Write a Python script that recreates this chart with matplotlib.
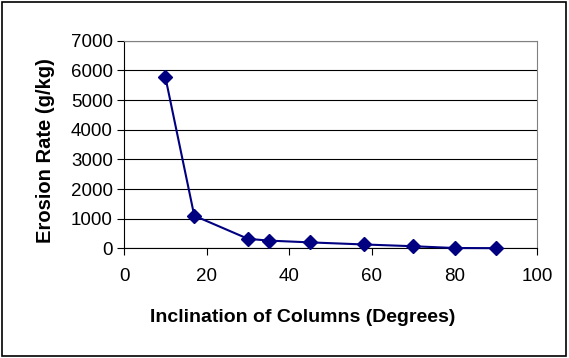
import matplotlib
matplotlib.use("Agg")
import matplotlib.pyplot as plt
from matplotlib.patches import Rectangle

plt.rcParams['font.family'] = ['Liberation Sans', 'DejaVu Sans']

# data
inclination = [10, 17, 30, 35, 45, 58, 70, 80, 90]
erosion_rate = [5780, 1100, 320, 260, 200, 130, 70, 10, 5]
x_ticks = [0, 20, 40, 60, 80, 100]
y_ticks = [0, 1000, 2000, 3000, 4000, 5000, 6000, 7000]

fig = plt.figure(figsize=(5.69, 3.58), dpi=100)
ax = fig.add_axes([0.218, 0.3064, 0.726, 0.5796])

ax.plot(inclination, erosion_rate, color='#000080', linewidth=1.5,
        marker='D', markersize=7.5, markerfacecolor='#000080',
        markeredgecolor='#000080', clip_on=False, zorder=3)

ax.set_xlim(0, 100)
ax.set_ylim(0, 7000)
ax.set_xticks(x_ticks)
ax.set_yticks(y_ticks)
ax.yaxis.grid(True, color='black', linewidth=0.8)
ax.set_axisbelow(True)

for side in ['top', 'right']:
    ax.spines[side].set_color('#808080')
for side in ['left', 'bottom']:
    ax.spines[side].set_color('black')
    ax.spines[side].set_linewidth(0.8)

ax.tick_params(direction='out', length=5, width=0.8, labelsize=13.5, pad=3)
ax.tick_params(axis='x', pad=9)

ax.set_xlabel("Inclination of Columns (Degrees)", fontsize=14,
              fontweight='bold')
ax.set_ylabel("Erosion Rate (g/kg)", fontsize=14.5, fontweight='bold')
ax.xaxis.set_label_coords(0.432, -0.293)
ax.yaxis.set_label_coords(-0.168, 0.47)

# chart border
fig.patches.append(Rectangle((0.004, 0.006), 0.99, 0.988,
                             transform=fig.transFigure, fill=False,
                             edgecolor='black', linewidth=1.2))

fig.savefig("out.png", dpi=100)
